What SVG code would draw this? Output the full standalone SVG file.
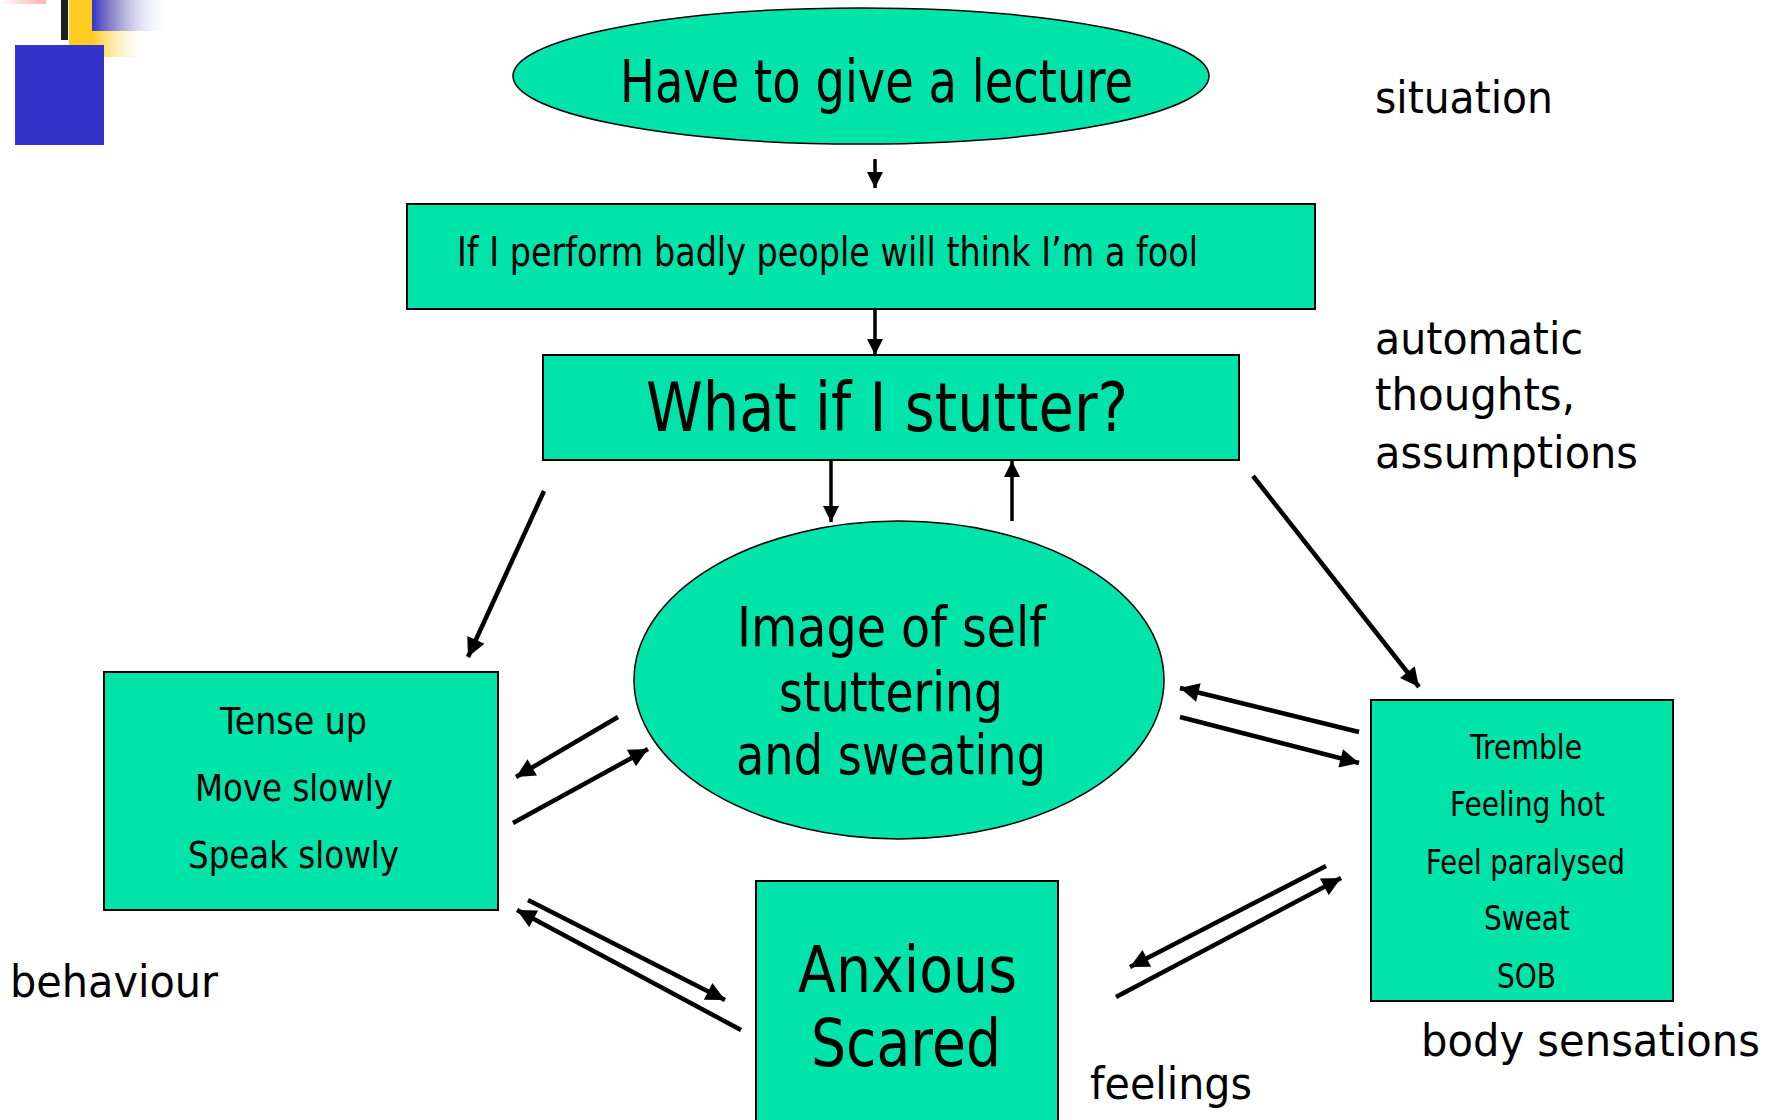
<svg xmlns="http://www.w3.org/2000/svg" width="1777" height="1120" viewBox="0 0 1777 1120">
  <defs>
    <linearGradient id="pinkFade" x1="1" y1="0" x2="0" y2="0">
      <stop offset="0" stop-color="#FFB3B3"/>
      <stop offset="1" stop-color="#FFFFFF"/>
    </linearGradient>
    <linearGradient id="blueFade" x1="0" y1="0" x2="1" y2="0">
      <stop offset="0" stop-color="#3333CC"/>
      <stop offset="1" stop-color="#FFFFFF" stop-opacity="0"/>
    </linearGradient>
    <linearGradient id="yellowFade" x1="0" y1="0" x2="1" y2="0">
      <stop offset="0" stop-color="#FFCC22"/>
      <stop offset="0.3" stop-color="#FFCC22"/>
      <stop offset="1" stop-color="#FFFFFF" stop-opacity="0"/>
    </linearGradient>
    <marker id="head" viewBox="0 0 10 10" refX="10" refY="5" markerWidth="4.6" markerHeight="4.2" orient="auto" markerUnits="strokeWidth">
      <path d="M0,0 L10,5 L0,10 z" fill="#000"/>
    </marker>
    <marker id="headThin" viewBox="0 0 10 10" refX="10" refY="5" markerWidth="5" markerHeight="4.6" orient="auto" markerUnits="strokeWidth">
      <path d="M0,0 L10,5 L0,10 z" fill="#000"/>
    </marker>
  </defs>
  <style>
    .node { fill: #00E3A9; stroke: #000; stroke-width: 2; }
    .oval { fill: #00E3A9; stroke: #000; stroke-width: 1.5; }
    .txt { font-family: "DejaVu Sans", Verdana, sans-serif; fill: #000; }
    .label { font-family: "DejaVu Sans", Verdana, sans-serif; font-size: 44px; fill: #000; }
    .conn line { stroke: #000; stroke-width: 4.5; marker-end: url(#head); }
    .conn line.thin { stroke-width: 3.5; marker-end: url(#headThin); }
  </style>

  <rect width="1777" height="1120" fill="#FFFFFF"/>

  <!-- corner ornament -->
  <g id="ornament">
    <rect x="0" y="0" width="46" height="4" fill="url(#pinkFade)"/>
    <rect x="69" y="0" width="80" height="57" fill="url(#yellowFade)"/>
    <rect x="92" y="0" width="80" height="31" fill="url(#blueFade)"/>
    <rect x="61" y="0" width="7" height="40" fill="#1E1E1E"/>
    <rect x="15" y="45" width="89" height="100" fill="#3333CC"/>
  </g>

  <!-- nodes -->
  <g id="situation-node">
    <ellipse class="oval" cx="861" cy="76" rx="348" ry="68"/>
    <text class="txt" x="620" y="102" font-size="58" textLength="513" lengthAdjust="spacingAndGlyphs">Have to give a lecture</text>
  </g>

  <g id="assumption-node">
    <rect class="node" x="407" y="204" width="908" height="105"/>
    <text class="txt" x="457" y="266" font-size="40" textLength="741" lengthAdjust="spacingAndGlyphs">If I perform badly people will think I’m a fool</text>
  </g>

  <g id="thought-node">
    <rect class="node" x="543" y="355" width="696" height="105"/>
    <text class="txt" x="646" y="431" font-size="67" textLength="482" lengthAdjust="spacingAndGlyphs">What if I stutter?</text>
  </g>

  <g id="image-node">
    <ellipse class="oval" cx="899" cy="680" rx="265" ry="159"/>
    <text class="txt" x="737" y="646" font-size="56" textLength="309" lengthAdjust="spacingAndGlyphs">Image of self</text>
    <text class="txt" x="779" y="711" font-size="56" textLength="224" lengthAdjust="spacingAndGlyphs">stuttering</text>
    <text class="txt" x="736" y="774" font-size="56" textLength="310" lengthAdjust="spacingAndGlyphs">and sweating</text>
  </g>

  <g id="behaviour-node">
    <rect class="node" x="104" y="672" width="394" height="238"/>
    <text class="txt" x="220" y="734" font-size="38" textLength="147" lengthAdjust="spacingAndGlyphs">Tense up</text>
    <text class="txt" x="195" y="801" font-size="38" textLength="198" lengthAdjust="spacingAndGlyphs">Move slowly</text>
    <text class="txt" x="188" y="868" font-size="38" textLength="211" lengthAdjust="spacingAndGlyphs">Speak slowly</text>
  </g>

  <g id="body-node">
    <rect class="node" x="1371" y="700" width="302" height="301"/>
    <text class="txt" x="1470" y="759" font-size="33" textLength="112" lengthAdjust="spacingAndGlyphs">Tremble</text>
    <text class="txt" x="1450" y="816" font-size="33" textLength="155" lengthAdjust="spacingAndGlyphs">Feeling hot</text>
    <text class="txt" x="1426" y="874" font-size="33" textLength="199" lengthAdjust="spacingAndGlyphs">Feel paralysed</text>
    <text class="txt" x="1484" y="930" font-size="33" textLength="86" lengthAdjust="spacingAndGlyphs">Sweat</text>
    <text class="txt" x="1497" y="988" font-size="33" textLength="59" lengthAdjust="spacingAndGlyphs">SOB</text>
  </g>

  <g id="feelings-node">
    <rect class="node" x="756" y="881" width="302" height="250"/>
    <text class="txt" x="798" y="992" font-size="64" textLength="219" lengthAdjust="spacingAndGlyphs">Anxious</text>
    <text class="txt" x="811" y="1066" font-size="66" textLength="190" lengthAdjust="spacingAndGlyphs">Scared</text>
  </g>

  <!-- side labels -->
  <g id="labels">
    <text class="label" x="1375" y="113" textLength="178" lengthAdjust="spacingAndGlyphs">situation</text>
    <text class="label" x="1375" y="354" textLength="208" lengthAdjust="spacingAndGlyphs">automatic</text>
    <text class="label" x="1375" y="410" textLength="200" lengthAdjust="spacingAndGlyphs">thoughts,</text>
    <text class="label" x="1375" y="468" textLength="263" lengthAdjust="spacingAndGlyphs">assumptions</text>
    <text class="label" x="10" y="997" textLength="208" lengthAdjust="spacingAndGlyphs">behaviour</text>
    <text class="label" x="1090" y="1099" textLength="162" lengthAdjust="spacingAndGlyphs">feelings</text>
    <text class="label" x="1421" y="1056" textLength="339" lengthAdjust="spacingAndGlyphs">body sensations</text>
  </g>

  <!-- connectors -->
  <g id="connectors" class="conn">
    <line class="thin" x1="875" y1="159" x2="875" y2="188"/>
    <line class="thin" x1="875" y1="309" x2="875" y2="355"/>
    <line class="thin" x1="831" y1="460" x2="831" y2="522"/>
    <line class="thin" x1="1012" y1="521" x2="1012" y2="461"/>
    <line x1="544" y1="491" x2="468" y2="657"/>
    <line x1="1253" y1="476" x2="1419" y2="687"/>
    <line x1="618" y1="717" x2="516" y2="777"/>
    <line x1="513" y1="823" x2="648" y2="749"/>
    <line x1="1359" y1="732" x2="1180" y2="688"/>
    <line x1="1180" y1="717" x2="1359" y2="763"/>
    <line x1="528" y1="900" x2="725" y2="1000"/>
    <line x1="741" y1="1030" x2="517" y2="910"/>
    <line x1="1326" y1="866" x2="1130" y2="967"/>
    <line x1="1116" y1="997" x2="1341" y2="878"/>
  </g>
</svg>
